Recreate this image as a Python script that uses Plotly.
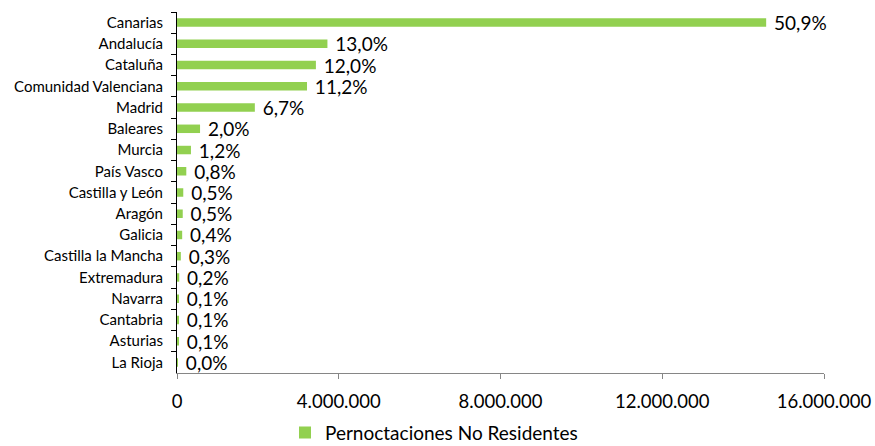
import plotly.graph_objects as go

regions = ["Canarias", "Andalucía", "Cataluña", "Comunidad Valenciana", "Madrid",
           "Baleares", "Murcia", "País Vasco", "Castilla y León", "Aragón", "Galicia",
           "Castilla la Mancha", "Extremadura", "Navarra", "Cantabria", "Asturias", "La Rioja"]
pernoctaciones = [14570000, 3720000, 3435000, 3215000, 1925000,
                  570000, 345000, 230000, 155000, 142000, 128000,
                  95000, 55000, 30000, 28000, 27000, 9000]
porcentajes = ["50,9%", "13,0%", "12,0%", "11,2%", "6,7%",
               "2,0%", "1,2%", "0,8%", "0,5%", "0,5%", "0,4%",
               "0,3%", "0,2%", "0,1%", "0,1%", "0,1%", "0,0%"]
x_ticks = [0, 4000000, 8000000, 12000000, 16000000]

FONT = "Lato"

fig = go.Figure(go.Bar(
    x=pernoctaciones, y=regions, orientation="h",
    name="Pernoctaciones No Residentes",
    marker=dict(color="#92D050", line=dict(width=0)),
    text=["\u00a0" + p for p in porcentajes], textposition="outside",
    constraintext="none",
    textfont=dict(family=FONT, size=19, color="#000000"),
    cliponaxis=False,
))

fig.update_layout(
    width=875, height=446,
    margin=dict(l=177, r=51, t=12, b=73, autoexpand=False),
    paper_bgcolor="white", plot_bgcolor="white",
    separators=",.",
    bargap=0.6,
    font=dict(family=FONT, color="#000000"),
    showlegend=True,
    legend=dict(orientation="h", xref="container", x=0.496, xanchor="center",
                yref="container", y=0.03, yanchor="middle",
                font=dict(family=FONT, size=19, color="#000000"),
                itemwidth=30, traceorder="normal"),
)
fig.update_yaxes(
    categoryorder="array", categoryarray=regions, autorange="reversed",
    showline=True, linecolor="#000000", linewidth=1,
    ticks="outside", tickson="boundaries", ticklen=5, tickcolor="#000000",
    tickfont=dict(family=FONT, size=15, color="#000000"),
    ticklabelstandoff=10,
    showgrid=False, zeroline=False, automargin=False,
)
fig.update_xaxes(
    range=[0, 16000000], tickvals=x_ticks, tickformat=",d",
    showline=True, linecolor="#868686", linewidth=1,
    ticks="outside", ticklen=5, tickcolor="#868686",
    tickfont=dict(family=FONT, size=18.5, color="#000000"),
    ticklabelstandoff=7,
    showgrid=False, zeroline=False, automargin=False,
)

fig.write_html(
    "out.html",
    config={"displayModeBar": False},
    post_script="document.body.style.margin='0';document.body.style.overflow='hidden';",
)
